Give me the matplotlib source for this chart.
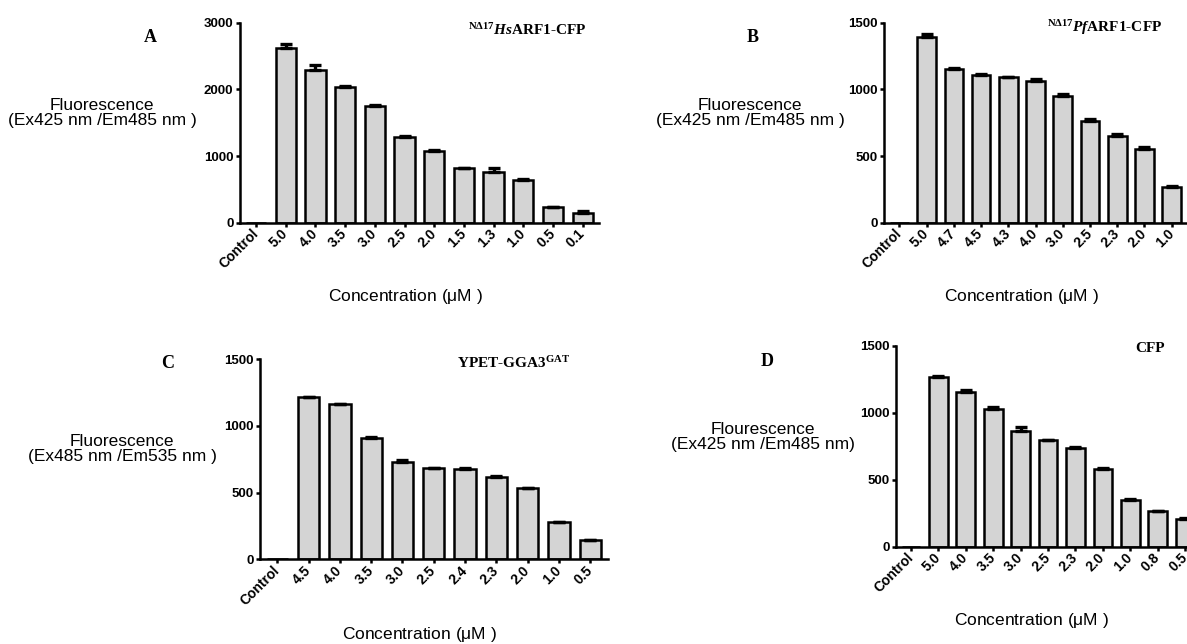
import numpy as np
import matplotlib
matplotlib.use('Agg')
import matplotlib.pyplot as plt
import matplotlib.transforms as mtransforms

# ---- data ----
labels_a = ['Control', '5.0', '4.0', '3.5', '3.0', '2.5', '2.0', '1.5', '1.3', '1.0', '0.5', '0.1']
vals_a = [0, 2625, 2290, 2040, 1750, 1280, 1075, 815, 760, 640, 235, 150]
errs_a = [0, 55, 75, 10, 20, 20, 20, 5, 65, 15, 5, 20]

labels_b = ['Control', '5.0', '4.7', '4.5', '4.3', '4.0', '3.0', '2.5', '2.3', '2.0', '1.0']
vals_b = [0, 1393, 1153, 1108, 1090, 1065, 953, 765, 648, 555, 268]
errs_b = [0, 20, 10, 5, 5, 10, 10, 10, 15, 10, 10]

labels_c = ['Control', '4.5', '4.0', '3.5', '3.0', '2.5', '2.4', '2.3', '2.0', '1.0', '0.5']
vals_c = [0, 1220, 1162, 907, 727, 687, 675, 617, 537, 277, 147]
errs_c = [0, 0, 0, 10, 20, 0, 12, 10, 0, 0, 0]

labels_d = ['Control', '5.0', '4.0', '3.5', '3.0', '2.5', '2.3', '2.0', '1.0', '0.8', '0.5']
vals_d = [0, 1266, 1154, 1027, 867, 797, 738, 581, 346, 269, 204]
errs_d = [0, 12, 17, 15, 30, 0, 10, 9, 13, 0, 8]

W, H = 1187, 644
SANS = 'Liberation Sans'
SERIF = 'Liberation Serif'

plt.rcParams['mathtext.fontset'] = 'custom'
plt.rcParams['mathtext.rm'] = 'Liberation Serif:bold'
plt.rcParams['mathtext.it'] = 'Liberation Serif:italic:bold'
plt.rcParams['mathtext.bf'] = 'Liberation Serif:bold'


def box(left, top, right, bottom):
    # pixel box -> figure fraction
    return [left / W, 1 - bottom / H, (right - left) / W, (bottom - top) / H]


def ftext(fig, x, y, s, **kw):
    fig.text(x / W, 1 - y / H, s, **kw)


def plot_panel(fig, rect, labels, vals, errs, ymax, xmax):
    ax = fig.add_axes(rect)
    x = np.arange(len(labels))
    ax.bar(x, vals, width=0.68, color='#d4d4d4', edgecolor='black', linewidth=1.8, zorder=2)
    ax.errorbar(x[1:], vals[1:], yerr=[np.zeros(len(errs) - 1), errs[1:]], fmt='none',
                ecolor='black', elinewidth=2.4, capsize=4.5, capthick=2.4, zorder=3)
    ax.set_xlim(-0.55, xmax)
    ax.set_ylim(0, ymax)
    ax.set_yticks(np.linspace(0, ymax, 4))
    ax.set_yticklabels(['%d' % v for v in np.linspace(0, ymax, 4)],
                       fontfamily=SANS, fontweight='bold', fontsize=9.5)
    ax.set_xticks(x)
    ax.set_xticklabels(labels, rotation=45, ha='right', va='center', rotation_mode='anchor',
                       fontfamily=SANS, fontweight='bold', fontsize=10)
    offset = mtransforms.ScaledTranslation(10 / 100, 0, fig.dpi_scale_trans)
    for lbl in ax.get_xticklabels():
        lbl.set_transform(lbl.get_transform() + offset)
    for side in ['top', 'right']:
        ax.spines[side].set_visible(False)
    for side in ['left', 'bottom']:
        ax.spines[side].set_linewidth(1.8)
    ax.tick_params(axis='both', direction='out', length=3, width=1.8)
    ax.tick_params(axis='x', pad=3.5)
    ax.tick_params(axis='y', pad=1.5)
    ax.patch.set_visible(False)
    return ax


fig = plt.figure(figsize=(W / 100, H / 100), dpi=100)

# panel A
plot_panel(fig, box(239.7, 22.7, 599, 222.7), labels_a, vals_a, errs_a, 3000, 11.55)
ftext(fig, 150, 38, 'A', fontfamily=SERIF, fontweight='bold', fontsize=13, ha='center', va='center')
ftext(fig, 587, 30, r'$^{\mathrm{N\Delta17}}$$\mathit{Hs}$ARF1-CFP', fontfamily=SERIF,
      fontweight='bold', fontsize=11, ha='right', va='center')
ftext(fig, 102, 113, 'Fluorescence\n(Ex425 nm /Em485 nm )', fontfamily=SANS, fontsize=12.5,
      ha='center', va='center', multialignment='center', linespacing=1.05)
ftext(fig, 405, 297, r'Concentration ($\mathregular{\mu}$M )', fontfamily=SANS, fontsize=12.5,
      ha='center', va='center')

# panel B
plot_panel(fig, box(884.3, 22.7, 1187, 222.7), labels_b, vals_b, errs_b, 1500, 10.56)
ftext(fig, 753, 38, 'B', fontfamily=SERIF, fontweight='bold', fontsize=13, ha='center', va='center')
ftext(fig, 1162, 28, r'$^{\mathrm{N\Delta17}}$$\mathit{Pf}$ARF1-CFP', fontfamily=SERIF,
      fontweight='bold', fontsize=11, ha='right', va='center')
ftext(fig, 750, 113, 'Fluorescence\n(Ex425 nm /Em485 nm )', fontfamily=SANS, fontsize=12.5,
      ha='center', va='center', multialignment='center', linespacing=1.05)
ftext(fig, 1021, 297, r'Concentration ($\mathregular{\mu}$M )', fontfamily=SANS, fontsize=12.5,
      ha='center', va='center')

# panel C
plot_panel(fig, box(260.1, 359.3, 608, 559.3), labels_c, vals_c, errs_c, 1500, 10.57)
ftext(fig, 168, 363, 'C', fontfamily=SERIF, fontweight='bold', fontsize=13, ha='center', va='center')
ftext(fig, 570, 363, r'YPET-GGA3$^{\mathrm{GAT}}$', fontfamily=SERIF,
      fontweight='bold', fontsize=11, ha='right', va='center')
ftext(fig, 122, 449, 'Fluorescence\n(Ex485 nm /Em535 nm )', fontfamily=SANS, fontsize=12.5,
      ha='center', va='center', multialignment='center', linespacing=1.05)
ftext(fig, 419, 634, r'Concentration ($\mathregular{\mu}$M )', fontfamily=SANS, fontsize=12.5,
      ha='center', va='center')

# panel D
plot_panel(fig, box(895.9, 346, 1187, 546.7), labels_d, vals_d, errs_d, 1500, 10.07)
ftext(fig, 767, 362, 'D', fontfamily=SERIF, fontweight='bold', fontsize=13, ha='center', va='center')
ftext(fig, 1165, 348, 'CFP', fontfamily=SERIF, fontweight='bold', fontsize=11, ha='right', va='center')
ftext(fig, 763, 437, 'Flourescence\n(Ex425 nm /Em485 nm)', fontfamily=SANS, fontsize=12.5,
      ha='center', va='center', multialignment='center', linespacing=1.05)
ftext(fig, 1031, 620, r'Concentration ($\mathregular{\mu}$M )', fontfamily=SANS, fontsize=12.5,
      ha='center', va='center')

fig.savefig('out.png', dpi=100)
plt.close()
